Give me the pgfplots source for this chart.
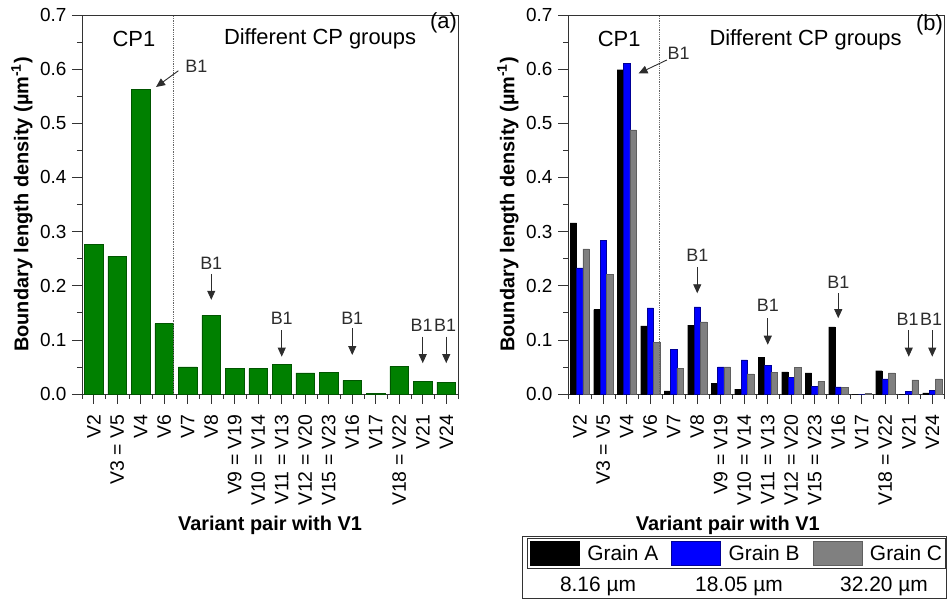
\documentclass[border=0pt]{standalone}
\usepackage{fontspec}
\setmainfont{Liberation Sans}
\usepackage{pgfplots}
\pgfplotsset{compat=1.18}
\usetikzlibrary{arrows.meta}
\newcommand\fs[1]{\fontsize{#1}{#1}\selectfont}
\definecolor{dgreen}{RGB}{0,128,0}
\definecolor{dgreenE}{RGB}{0,85,0}
\definecolor{bblue}{RGB}{0,0,255}
\definecolor{bblueE}{RGB}{0,0,150}
\definecolor{ggray}{RGB}{128,128,128}
\definecolor{ggrayE}{RGB}{95,95,95}
\definecolor{annot}{RGB}{45,45,45}

\tikzset{arr/.style={annot, line width=0.9bp, -{Triangle[width=8bp,length=9bp]}}}

\pgfplotsset{
 vbase/.style={
  scale only axis, width=376bp, height=379bp,
  xmin=-0.5, xmax=15.5, ymin=0, ymax=0.7,
  clip=false,
  xtick={0,...,15},
  xticklabels={{V2},{V3 = V5},{V4},{V6},{V7},{V8},{V9 = V19},{V10 = V14},{V11 = V13},{V12 = V20},{V15 = V23},{V16},{V17},{V18 = V22},{V21},{V24}},
  minor xtick={-0.5,0.5,...,15.5},
  ytick={0,0.1,0.2,0.3,0.4,0.5,0.6,0.7},
  minor ytick={0.05,0.15,0.25,0.35,0.45,0.55,0.65},
  tick align=outside, xtick pos=left, ytick pos=left,
  major tick length=10bp, minor tick length=5bp,
  every tick/.style={black!80, line width=0.6bp},
  axis line style={black!80, line width=0.6bp},
  /pgf/number format/assume math mode=true,
  yticklabel style={/pgf/number format/.cd, fixed, zerofill, precision=1},
  tick label style={font=\fs{19}},
  xticklabel style={rotate=90, anchor=east, font=\fs{19.5}},
  xticklabel shift=7bp, yticklabel shift=2bp,
  xlabel={\bfseries Variant pair with V1},
  ylabel={\bfseries Boundary length density (µm\textsuperscript{-1})},
  label style={font=\fs{20}},
  ylabel style={at={(axis description cs:-0.16,0.5)}, anchor=center},
 },
}

\begin{document}
\begin{tikzpicture}
\useasboundingbox (0,0) rectangle (948bp,599bp);

% ---------------- panel (a)
\begin{axis}[vbase, at={(82bp,205bp)}, anchor=south west,
  xlabel style={at={(axis description cs:0.5,0)}, anchor=center, yshift=-131bp}]
\addplot[ybar, bar width=0.8, fill=dgreen, draw=dgreenE, line width=0.4bp] coordinates {
 (0,0.276) (1,0.254) (2,0.563) (3,0.130) (4,0.050) (5,0.145) (6,0.047) (7,0.047)
 (8,0.055) (9,0.039) (10,0.040) (11,0.025) (12,0.001) (13,0.051) (14,0.024) (15,0.022)};
\addplot[densely dotted, black!60, line width=0.8bp] coordinates {(3.4,0) (3.4,0.7)};
\node[font=\fs{22}] at (axis cs:1.71,0.656) {CP1};
\node[font=\fs{22}] at (axis cs:9.63,0.656) {Different CP groups};
\node[font=\fs{22}] at (axis cs:14.88,0.685) {(a)};
\node[font=\fs{18}, annot] at (axis cs:4.37,0.606) {B1};
\draw[arr] (axis cs:3.60,0.597) -- (axis cs:2.65,0.567);
\node[font=\fs{18}, annot] at (axis cs:5,0.241) {B1};
\draw[arr] (axis cs:5,0.222) -- (axis cs:5,0.174);
\node[font=\fs{18}, annot] at (axis cs:8,0.140) {B1};
\draw[arr] (axis cs:8,0.118) -- (axis cs:8,0.069);
\node[font=\fs{18}, annot] at (axis cs:11,0.140) {B1};
\draw[arr] (axis cs:11,0.121) -- (axis cs:11,0.072);
\node[font=\fs{18}, annot] at (axis cs:13.95,0.127) {B1};
\draw[arr] (axis cs:14,0.106) -- (axis cs:14,0.057);
\node[font=\fs{18}, annot] at (axis cs:14.95,0.127) {B1};
\draw[arr] (axis cs:15,0.106) -- (axis cs:15,0.057);
\end{axis}

% ---------------- panel (b)
\begin{axis}[vbase, at={(568bp,205bp)}, anchor=south west,
  xlabel style={at={(axis description cs:0.425,0)}, anchor=center, yshift=-131bp},
  legend columns=3,
  legend style={at={(axis description cs:-0.110,-0.380)}, anchor=north west,
    draw=black!80, line width=0.6bp, font=\fs{21}, inner xsep=3bp, inner ysep=3bp,
    nodes={inner sep=0bp},
    /tikz/every odd column/.append style={column sep=8bp},
    /tikz/every even column/.append style={column sep=13bp}},
  legend image code/.code={\draw[#1, line width=0.4bp] (0bp,-12bp) rectangle (49bp,12bp);}]
\addplot[ybar, bar width=0.27, bar shift=-0.27, fill=black, draw=black, line width=0.3bp] coordinates {
 (0,0.316) (1,0.156) (2,0.599) (3,0.126) (4,0.006) (5,0.127) (6,0.020) (7,0.009)
 (8,0.068) (9,0.041) (10,0.039) (11,0.124) (12,0.0) (13,0.043) (14,0.0) (15,0.002)};
\addlegendentry{Grain A}
\addplot[ybar, bar width=0.27, bar shift=0, fill=bblue, draw=bblueE, line width=0.3bp] coordinates {
 (0,0.233) (1,0.284) (2,0.611) (3,0.159) (4,0.083) (5,0.161) (6,0.050) (7,0.063)
 (8,0.053) (9,0.031) (10,0.014) (11,0.013) (12,0.0) (13,0.028) (14,0.0055) (15,0.007)};
\addlegendentry{Grain B}
\addplot[ybar, bar width=0.27, bar shift=0.27, fill=ggray, draw=ggrayE, line width=0.3bp] coordinates {
 (0,0.268) (1,0.221) (2,0.488) (3,0.096) (4,0.047) (5,0.133) (6,0.050) (7,0.037)
 (8,0.040) (9,0.049) (10,0.023) (11,0.012) (12,0.001) (13,0.039) (14,0.026) (15,0.028)};
\addlegendentry{Grain C}
\addplot[densely dotted, black!60, line width=0.8bp, forget plot] coordinates {(3.37,0) (3.37,0.7)};
\node[font=\fs{22}] at (axis cs:1.68,0.655) {CP1};
\node[font=\fs{22}] at (axis cs:9.61,0.655) {Different CP groups};
\node[font=\fs{22}] at (axis cs:14.88,0.682) {(b)};
\node[font=\fs{18}, annot] at (axis cs:4.21,0.629) {B1};
\draw[arr] (axis cs:3.71,0.617) -- (axis cs:2.50,0.592);
\node[font=\fs{18}, annot] at (axis cs:5,0.257) {B1};
\draw[arr] (axis cs:5,0.235) -- (axis cs:5,0.186);
\node[font=\fs{18}, annot] at (axis cs:8,0.164) {B1};
\draw[arr] (axis cs:8,0.140) -- (axis cs:8,0.091);
\node[font=\fs{18}, annot] at (axis cs:11,0.207) {B1};
\draw[arr] (axis cs:11,0.186) -- (axis cs:11,0.140);
\node[font=\fs{18}, annot] at (axis cs:13.95,0.137) {B1};
\draw[arr] (axis cs:14,0.118) -- (axis cs:14,0.069);
\node[font=\fs{18}, annot] at (axis cs:14.95,0.137) {B1};
\draw[arr] (axis cs:15,0.118) -- (axis cs:15,0.069);
\end{axis}

% outer legend frame and grain sizes
\draw[black!80, line width=0.6bp] (522.7bp,0.5bp) rectangle (946.5bp,63bp);
\node[font=\fs{21}] at (598bp,13bp) {8.16 µm};
\node[font=\fs{21}] at (739bp,13bp) {18.05 µm};
\node[font=\fs{21}] at (884bp,13bp) {32.20 µm};
\end{tikzpicture}
\end{document}
